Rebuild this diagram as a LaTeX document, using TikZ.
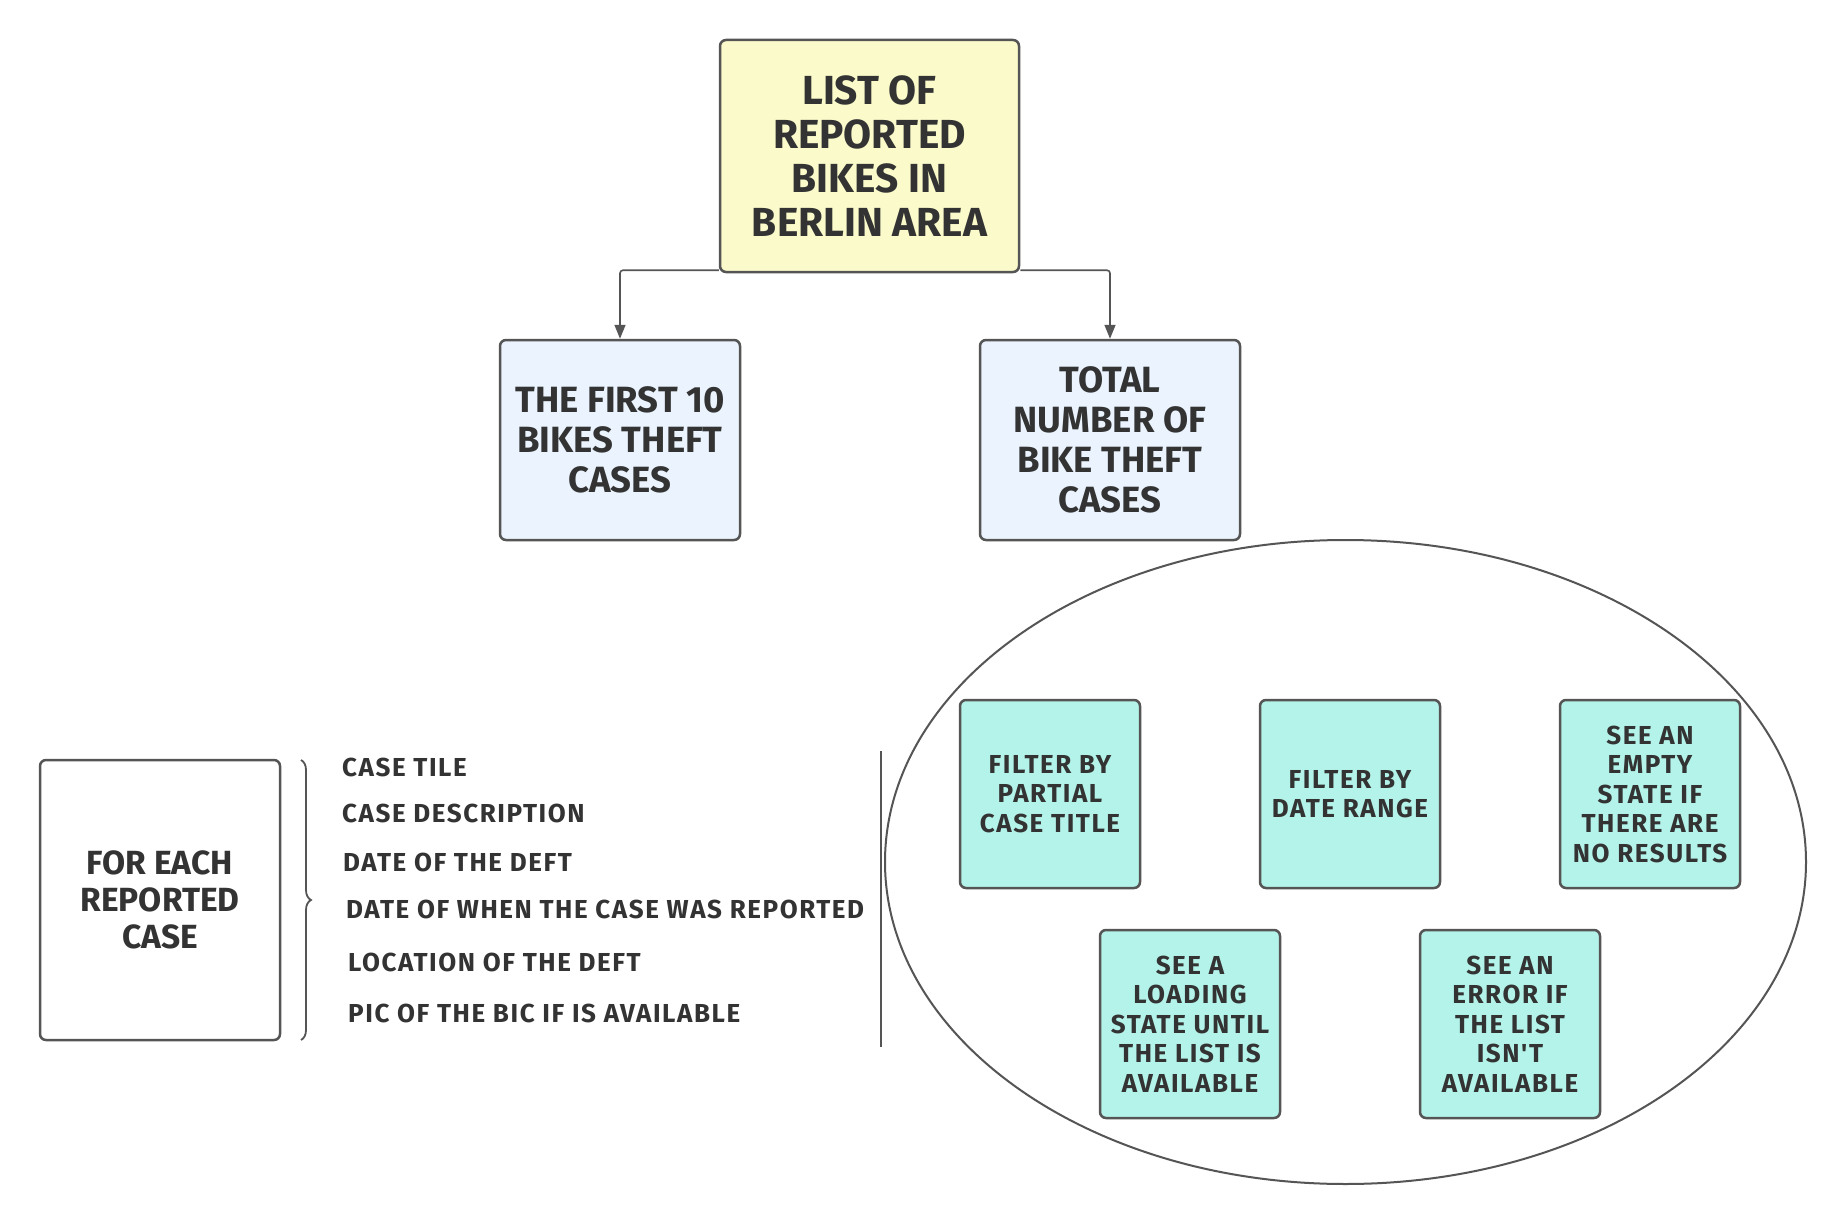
\documentclass[tikz,border=0pt]{standalone}
\usepackage{fontspec}
\setmainfont{Fira Sans}
\newfontfamily\spaced{Fira Sans}[LetterSpace=6]
\usetikzlibrary{decorations.pathreplacing,arrows.meta,shapes.geometric}
\definecolor{ink}{HTML}{333333}
\definecolor{edge}{HTML}{555555}
\definecolor{yel}{HTML}{FAFACA}
\definecolor{blu}{HTML}{EBF4FE}
\definecolor{tea}{HTML}{B4F3EA}
\tikzset{
  box/.style={draw=edge, line width=2.5pt, rounded corners=6pt, align=center,
    text=ink, inner sep=0pt, font=\bfseries},
  topbox/.style={box, fill=yel, minimum width=299pt, minimum height=232pt,
    font=\fontsize{40.6pt}{44pt}\selectfont\bfseries},
  bluebox/.style={box, fill=blu, minimum height=200pt,
    font=\fontsize{36.5pt}{40pt}\selectfont\bfseries},
  teabox/.style={box, fill=tea, minimum width=180pt, minimum height=188pt,
    font=\fontsize{26pt}{29.5pt}\selectfont\spaced\bfseries},
  whitebox/.style={box, fill=white, minimum width=240pt, minimum height=280pt,
    font=\fontsize{33.5pt}{37pt}\selectfont\bfseries},
  item/.style={anchor=west, text=ink, inner sep=0pt,
    font=\fontsize{26pt}{28pt}\selectfont\spaced\bfseries},
  conn/.style={draw=edge, line width=1.6pt, rounded corners=3pt,
    -{Triangle[length=14pt,width=11pt]}},
  plain/.style={draw=edge, line width=1.8pt}
}
\begin{document}
\begin{tikzpicture}[x=1pt,y=-1pt]
\useasboundingbox (0,0) rectangle (1845,1225);
\fill[white] (0,0) rectangle (1845,1225);

\node[topbox] (top) at (869.5,156) {LIST OF\\REPORTED\\BIKES IN\\BERLIN AREA};
\node[bluebox, minimum width=240pt] (first) at (620,440) {THE FIRST 10\\BIKES THEFT\\CASES};
\node[bluebox, minimum width=260pt] (total) at (1110,440) {TOTAL\\NUMBER OF\\BIKE THEFT\\CASES};

\coordinate (tl) at ([yshift=3pt]top.south west);
\coordinate (tr) at ([yshift=3pt]top.south east);
\draw[conn] (tl) -| (first.north);
\draw[conn] (tr) -| (total.north);

\node[draw=edge, line width=2pt, ellipse, minimum width=921pt, minimum height=644pt, inner sep=0pt] (oval) at (1345.5,862) {};
\node[teabox] (f1) at (1050,794) {FILTER BY\\PARTIAL\\CASE TITLE};
\node[teabox] (f2) at (1350,794) {FILTER BY\\DATE RANGE};
\node[teabox] (f3) at (1650,794) {SEE AN\\EMPTY\\STATE IF\\THERE ARE\\NO RESULTS};
\node[teabox] (f4) at (1190,1024) {SEE A\\LOADING\\STATE UNTIL\\THE LIST IS\\AVAILABLE};
\node[teabox] (f5) at (1510,1024) {SEE AN\\ERROR IF\\THE LIST\\ISN'T\\AVAILABLE};

\node[whitebox] (each) at (160,900) {FOR EACH\\REPORTED\\CASE};

\coordinate (bt) at (301,760);
\coordinate (bb) at (301,1040);
\draw[edge, line width=1.8pt, decorate, decoration={brace, amplitude=10pt}] (bt) -- (bb);

\node[item] (i1) at (342,767) {CASE TILE};
\node[item] (i2) at (342,813) {CASE DESCRIPTION};
\node[item] (i3) at (343,862.5) {DATE OF THE DEFT};
\node[item] (i4) at (346,909.5) {DATE OF WHEN THE CASE WAS REPORTED};
\node[item] (i5) at (348,962.5) {LOCATION OF THE DEFT};
\node[item] (i6) at (348,1013) {PIC OF THE BIC IF IS AVAILABLE};

\coordinate (vt) at (881,751);
\coordinate (vb) at (881,1047);
\draw[plain] (vt) -- (vb);
\end{tikzpicture}
\end{document}
